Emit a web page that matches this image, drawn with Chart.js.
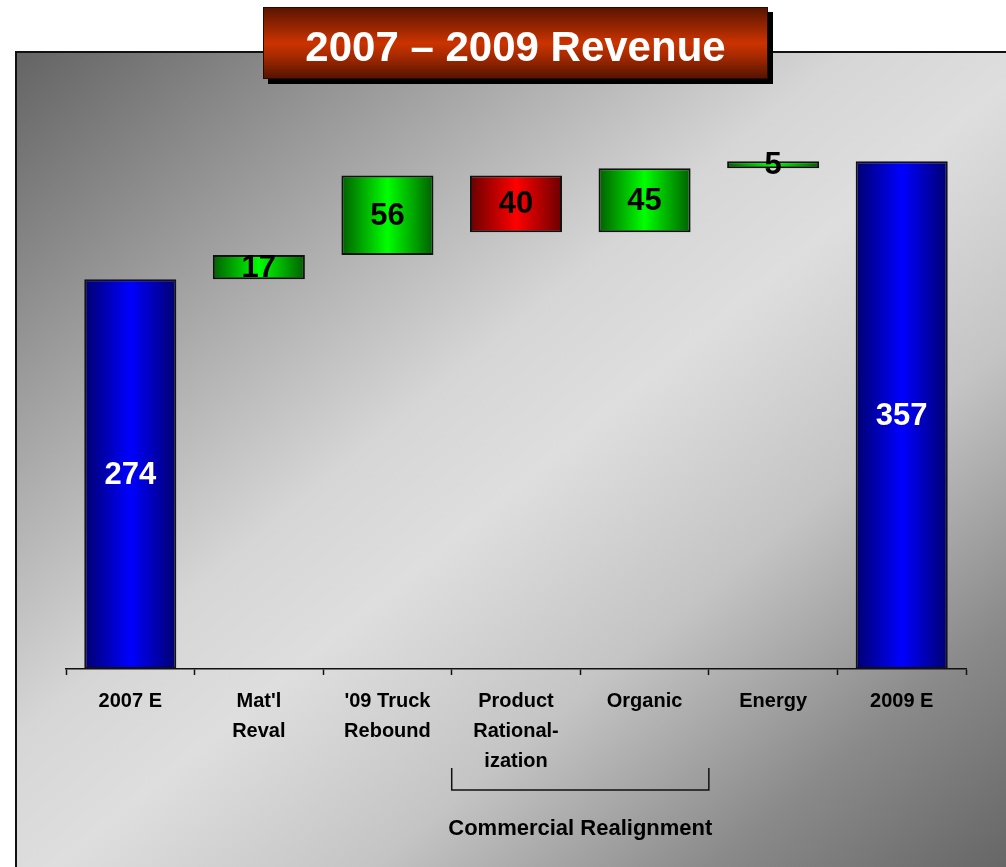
<!DOCTYPE html>
<html lang="en">
<head>
<meta charset="UTF-8">
<title>2007 – 2009 Revenue</title>
<script src="https://cdn.jsdelivr.net/npm/chart.js"></script>
<style>
    body { margin: 0; background: #fff; font-family: "Liberation Sans", Arial, sans-serif; }
    #wrap { position: relative; width: 1006px; height: 867px; overflow: hidden; background: #fff; }
    #panel {
        position: absolute; left: 15px; top: 51px; width: 991px; height: 816px;
        box-sizing: border-box;
        border-left: 2px solid #111; border-top: 2px solid #111;
        background: linear-gradient(to bottom right, #646464 0%, #a8a8a8 25%, #d6d6d6 42%, #dedede 52%, #c4c4c4 68%, #8a8a8a 85%, #666 100%);
    }
    #chart { position: absolute; left: 0; top: 0; }
    #title {
        position: absolute; left: 263px; top: 7px; width: 505px; height: 72px;
        box-sizing: border-box; border: 1px solid #2a0a00;
        background: linear-gradient(to bottom, #5a1500 0%, #a82a00 35%, #cc3300 50%, #a82a00 68%, #561400 100%);
        box-shadow: 5px 5px 0 #000;
        color: #fff; font-weight: bold; font-size: 42px; line-height: 77px; text-align: center;
    }
</style>
</head>
<body>
<div id="wrap">
    <div id="panel"></div>
    <canvas id="chart" width="1006" height="867"></canvas>
    <div id="title">2007 – 2009 Revenue</div>
</div>
<script>
    const fontFamily = '"Liberation Sans", Arial, sans-serif';

    // waterfall steps
    const categories = [['2007 E'], ["Mat'l", 'Reval'], ["'09 Truck", 'Rebound'], ['Product', 'Rational-', 'ization'], ['Organic'], ['Energy'], ['2009 E']];
    const startValues = [0, 274, 291, 347, 307, 352, 0];
    const endValues = [274, 291, 347, 307, 352, 357, 357];
    const barKinds = ['total', 'up', 'up', 'down', 'up', 'up', 'total'];

    // bracket under the axis
    const groupLabel = 'Commercial Realignment';
    const groupFirst = 3;
    const groupLast = 4;

    const palette = {
        total: { edge: '#000070', mid: '#0000ff' },
        up: { edge: '#006000', mid: '#00ff00' },
        down: { edge: '#6a0000', mid: '#ff0000' }
    };

    // plain colour first, the gradient is set once the bars have their place
    function barFill(c) {
        return palette[barKinds[c.dataIndex]].mid;
    }

    const barGradient = {
        id: 'barGradient',
        beforeDatasetsDraw(chart) {
            const ctx = chart.ctx;
            chart.getDatasetMeta(0).data.forEach(function (bar, i) {
                const col = palette[barKinds[i]];
                const g = ctx.createLinearGradient(bar.x - bar.width / 2, 0, bar.x + bar.width / 2, 0);
                g.addColorStop(0, col.edge);
                g.addColorStop(0.5, col.mid);
                g.addColorStop(1, col.edge);
                bar.options.backgroundColor = g;
            });
        }
    };

    const valueLabels = {
        id: 'valueLabels',
        afterDatasetsDraw(chart) {
            const ctx = chart.ctx;
            const meta = chart.getDatasetMeta(0);
            meta.data.forEach(function (bar, i) {
                const v = Math.abs(endValues[i] - startValues[i]);
                ctx.save();
                ctx.font = 'bold 31px ' + fontFamily;
                ctx.fillStyle = barKinds[i] == 'total' ? '#fff' : '#000';
                ctx.textAlign = 'center';
                ctx.textBaseline = 'middle';
                ctx.fillText(String(v), bar.x, (bar.y + bar.base) / 2 + 1);
                ctx.restore();
            });
        }
    };

    const groupBracket = {
        id: 'groupBracket',
        afterDraw(chart) {
            const ctx = chart.ctx;
            const x = chart.scales.x;
            const step = x.getPixelForValue(1) - x.getPixelForValue(0);
            const left = x.getPixelForValue(groupFirst) - step / 2;
            const right = x.getPixelForValue(groupLast) + step / 2;
            const base = chart.chartArea.bottom;
            ctx.save();
            ctx.strokeStyle = '#111';
            ctx.lineWidth = 1.5;
            ctx.beginPath();
            ctx.moveTo(left, base + 99);
            ctx.lineTo(left, base + 121);
            ctx.lineTo(right, base + 121);
            ctx.lineTo(right, base + 99);
            ctx.stroke();
            ctx.font = 'bold 22px ' + fontFamily;
            ctx.fillStyle = '#000';
            ctx.textAlign = 'center';
            ctx.textBaseline = 'middle';
            ctx.fillText(groupLabel, (left + right) / 2, base + 160);
            ctx.restore();
        }
    };

    const dados = {
        labels: categories,
        datasets: [{
            data: categories.map(function (c, i) { return [startValues[i], endValues[i]]; }),
            backgroundColor: barFill,
            borderColor: '#111',
            borderWidth: 2,
            borderSkipped: false,
            barPercentage: 0.716,
            categoryPercentage: 1
        }]
    };

    const config = {
        type: 'bar',
        data: dados,
        options: {
            responsive: false,
            animation: false,
            layout: { padding: { left: 66, right: 40, top: 100, bottom: 0 } },
            plugins: { legend: { display: false }, tooltip: { enabled: false }, title: { display: false } },
            scales: {
                y: { display: false, min: 0, max: 400 },
                x: {
                    grid: { drawOnChartArea: false, drawTicks: true, tickLength: 6, tickColor: '#111', tickWidth: 1.5, offset: true },
                    border: { display: true, color: '#111', width: 1.5 },
                    ticks: {
                        color: '#000', autoSkip: false, maxRotation: 0, padding: 11,
                        font: { family: fontFamily, size: 20, weight: 'bold', lineHeight: 1.5 }
                    },
                    afterFit: function (s) { s.height = 198; }
                }
            }
        },
        plugins: [barGradient, valueLabels, groupBracket]
    };

    let myChart = new Chart(document.getElementById('chart').getContext('2d'), config);
</script>
</body>
</html>
